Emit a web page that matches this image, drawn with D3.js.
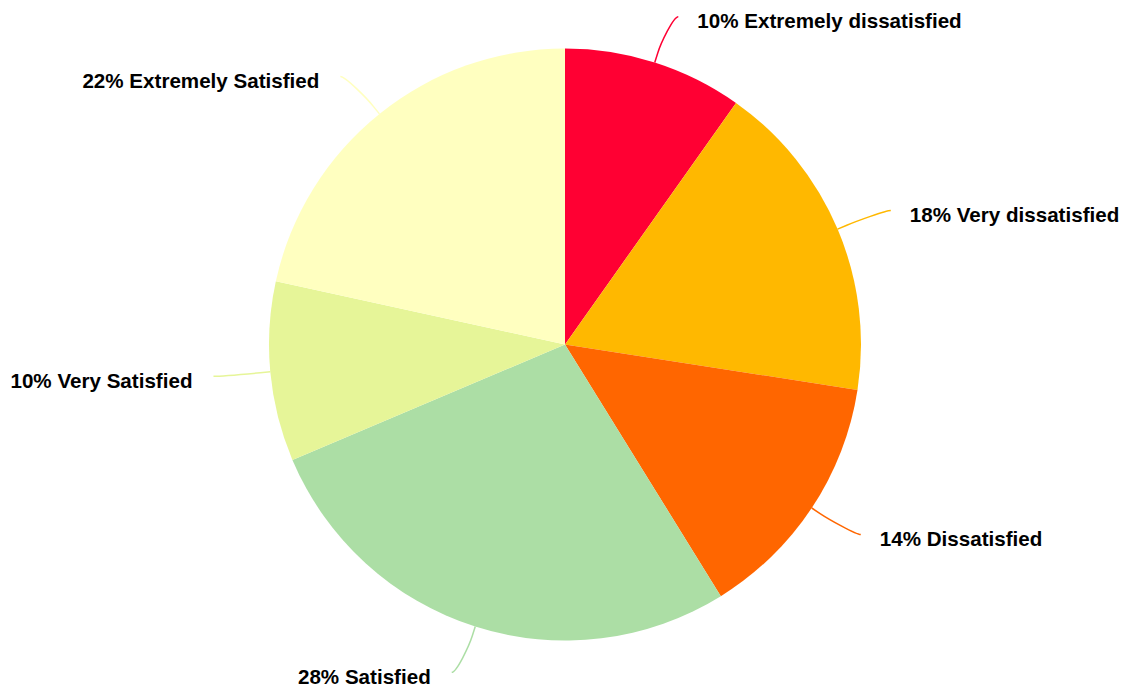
<!DOCTYPE html>
<html>
<head>
<meta charset="utf-8">
<script src="https://cdn.jsdelivr.net/npm/d3@7"></script>
<style>
  html, body { margin: 0; padding: 0; background: #fff; }
  svg { display: block; }
  .label { font-family: "Liberation Sans", Arial, Helvetica, sans-serif; font-weight: bold; font-size: 20.6px; fill: #000; }
</style>
</head>
<body>
<svg id="chart" width="1124" height="687"></svg>
<script>
// Survey responses, clockwise from 12 o'clock
const categories = ["Extremely dissatisfied", "Very dissatisfied", "Dissatisfied", "Satisfied", "Very Satisfied", "Extremely Satisfied"];
const values = [10, 18, 14, 28, 10, 22];
const colors = ["#FF0033", "#FFB800", "#FF6600", "#ACDEA5", "#E6F598", "#FFFFC0"];

const width = 1124, height = 687;
const cx = 565, cy = 344.5, radius = 296;
const labelDist = 344;     // radial distance of the connector end
const breakOffset = 10;    // where the connector bends outside the slice
const sideGap = 9;         // extra horizontal push of the connector end
const textGapRight = 19;   // gap between connector end and text (right side)
const textGapLeft = 21;    // gap between connector end and text (left side)

const data = categories.map((c, i) => ({ name: c, value: values[i], color: colors[i] }));

const svg = d3.select("#chart");
const g = svg.append("g").attr("transform", `translate(${cx},${cy})`);

const pie = d3.pie().value(d => d.value).sort(null);
const arc = d3.arc().innerRadius(0).outerRadius(radius);
const arcs = pie(data);

g.selectAll("path.slice")
  .data(arcs)
  .join("path")
  .attr("class", "slice")
  .attr("d", arc)
  .attr("fill", d => d.data.color);

// polar helper: angle measured clockwise from 12 o'clock
const pt = (a, r) => [Math.sin(a) * r, -Math.cos(a) * r];

arcs.forEach(d => {
  const a = (d.startAngle + d.endAngle) / 2;
  const right = Math.sin(a) >= 0;
  const sign = right ? 1 : -1;
  const touch = pt(a, radius);
  const brk = pt(a, radius + breakOffset);
  const endY = -Math.cos(a) * labelDist;
  const endX = Math.sin(a) * labelDist + sign * sideGap;

  const p = d3.path();
  p.moveTo(endX, endY);
  p.bezierCurveTo(endX - sign * 5, endY, 2 * brk[0] - touch[0], 2 * brk[1] - touch[1], brk[0], brk[1]);
  p.lineTo(touch[0], touch[1]);

  g.append("path")
    .attr("d", p.toString())
    .attr("fill", "none")
    .attr("stroke", d.data.color)
    .attr("stroke-width", 1.5);

  g.append("text")
    .attr("class", "label")
    .attr("x", endX + sign * (right ? textGapRight : textGapLeft))
    .attr("y", endY + 11.5)
    .attr("text-anchor", right ? "start" : "end")
    .text(`${d.data.value}% ${d.data.name}`);
});
</script>
</body>
</html>
